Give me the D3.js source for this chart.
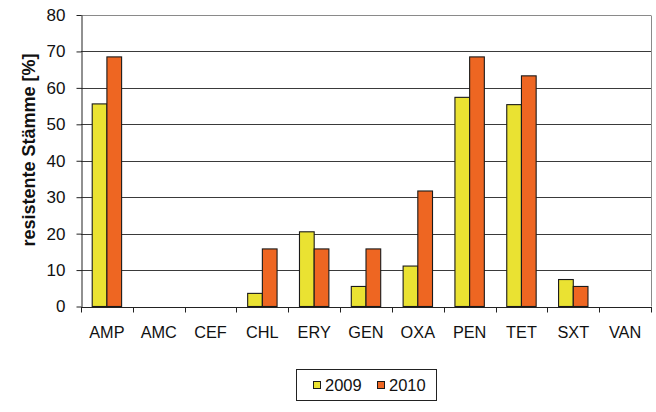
<!DOCTYPE html>
<html>
<head>
<meta charset="utf-8">
<script src="https://cdn.jsdelivr.net/npm/d3@7"></script>
<style>
  html, body { margin: 0; padding: 0; background: #fff; }
  svg { display: block; font-family: "Liberation Sans", Arial, sans-serif; }
</style>
</head>
<body>
<svg id="chart" width="656" height="412"></svg>
<script>
// Resistance rates per antibiotic, two survey years
const categories = ["AMP", "AMC", "CEF", "CHL", "ERY", "GEN", "OXA", "PEN", "TET", "SXT", "VAN"];
const values2009 = [55.6, 0, 0, 3.6, 20.5, 5.5, 11.1, 57.4, 55.4, 7.4, 0];
const values2010 = [68.5, 0, 0, 15.8, 15.8, 15.8, 31.7, 68.5, 63.3, 5.5, 0];
const seriesNames = ["2009", "2010"];
const seriesColors = ["#EAE232", "#EE6622"];
const yTicks = [0, 10, 20, 30, 40, 50, 60, 70, 80];
const yTitle = "resistente Stämme [%]";

const svg = d3.select("#chart");
const m = { left: 81, right: 651, top: 15, bottom: 306.5 };

const x = d3.scaleBand().domain(categories).range([m.left, m.right]).paddingInner(0).paddingOuter(0);
const y = d3.scaleLinear().domain([0, 80]).range([m.bottom, m.top]);

// gridlines
svg.append("g").selectAll("line")
  .data(yTicks.filter(t => t > 0))
  .join("line")
  .attr("x1", m.left).attr("x2", m.right)
  .attr("y1", d => Math.round(y(d)) + 0.5).attr("y2", d => Math.round(y(d)) + 0.5)
  .attr("stroke", d => d === 80 ? "#8a8a8a" : "#3a3a3a")
  .attr("stroke-width", 1);

// plot-area right border
svg.append("line")
  .attr("x1", m.right + 0.5).attr("x2", m.right + 0.5)
  .attr("y1", Math.round(y(80)) + 0.5).attr("y2", m.bottom)
  .attr("stroke", "#8a8a8a");

// bars
const barW = 14.7;
const groupW = barW * 2;
const series = [values2009, values2010];
series.forEach((vals, si) => {
  svg.append("g").selectAll("rect")
    .data(categories.map((c, i) => ({ c, v: vals[i] })).filter(d => d.v > 0))
    .join("rect")
    .attr("x", d => x(d.c) + (x.bandwidth() - groupW) / 2 + si * barW)
    .attr("y", d => y(d.v))
    .attr("width", barW)
    .attr("height", d => y(0) - y(d.v))
    .attr("fill", seriesColors[si])
    .attr("stroke", "#1a1a1a")
    .attr("stroke-width", 1.1);
});

// y axis
const yAxis = d3.axisLeft(y).tickValues(yTicks).tickSize(5).tickPadding(11).tickSizeOuter(0);
const gy = svg.append("g").attr("transform", `translate(${m.left + 0.5},0)`).call(yAxis);
gy.select(".domain").attr("stroke", "#222");
gy.selectAll(".tick line").attr("stroke", "#222");
gy.selectAll(".tick text").attr("font-size", 17).attr("fill", "#111")
  .attr("font-family", "'Liberation Sans', Arial, sans-serif");

// x axis with ticks between categories
const gx = svg.append("g").attr("transform", `translate(0,${Math.round(y(0)) + 0.5})`);
gx.append("line").attr("x1", m.left).attr("x2", m.right + 1).attr("stroke", "#222");
gx.selectAll("line.tk")
  .data(categories.map((c) => x(c)).concat([m.right]))
  .join("line").attr("class", "tk")
  .attr("x1", d => Math.round(d) + 0.5).attr("x2", d => Math.round(d) + 0.5)
  .attr("y1", 0).attr("y2", 5).attr("stroke", "#222");
gx.selectAll("text")
  .data(categories)
  .join("text")
  .attr("x", d => x(d) + x.bandwidth() / 2)
  .attr("y", 30.5)
  .attr("text-anchor", "middle")
  .attr("font-size", 16.3)
  .attr("fill", "#111")
  .text(d => d);

// y axis title
svg.append("text")
  .attr("transform", `translate(34.5,150) rotate(-90)`)
  .attr("text-anchor", "middle")
  .attr("font-size", 18)
  .attr("font-weight", "bold")
  .attr("fill", "#111")
  .text(yTitle);

// legend
const lg = svg.append("g");
lg.append("rect").attr("x", 296.5).attr("y", 369.5).attr("width", 140).attr("height", 31)
  .attr("fill", "#fff").attr("stroke", "#222");
const legX = [313, 377];
seriesNames.forEach((n, i) => {
  lg.append("rect").attr("x", legX[i] + 0.5).attr("y", 381.5).attr("width", 7).attr("height", 7)
    .attr("fill", seriesColors[i]).attr("stroke", "#1a1a1a");
  lg.append("text").attr("x", legX[i] + 12).attr("y", 391)
    .attr("font-size", 16.5).attr("fill", "#111").text(n);
});
</script>
</body>
</html>
